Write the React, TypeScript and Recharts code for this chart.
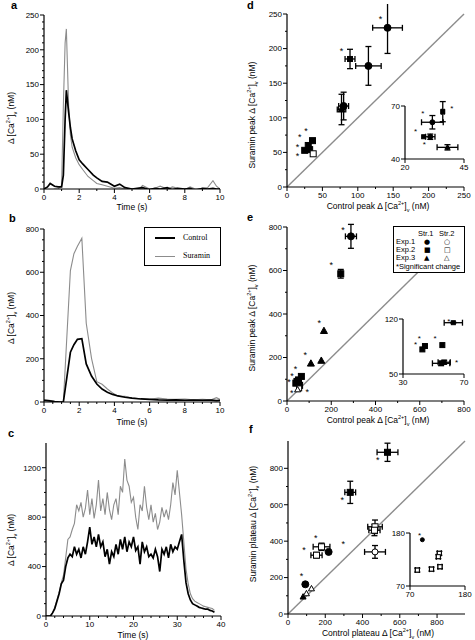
import React from "react";
import {
  LineChart,
  Line,
  XAxis,
  YAxis,
  ScatterChart,
  Scatter,
  ErrorBar,
  ReferenceLine,
} from "recharts";

const SANS = "'Liberation Sans', Arial, sans-serif";
const SERIF = "'Liberation Serif', 'Times New Roman', serif";
const GREY = "#8c8c8c";

// a: short stimulus, 0-10 s
const timeA = [0, 0.2, 0.35, 0.6, 0.8, 1.0, 1.1, 1.2, 1.27, 1.4, 1.5, 1.6, 1.8, 2.0, 2.2, 2.5, 2.8, 3.0, 3.3, 3.6, 4.0, 4.3, 4.6, 5.0, 5.3, 5.6, 6.0, 6.3, 6.6, 7.0, 7.3, 7.6, 8.0, 8.3, 8.6, 9.0, 9.3, 9.6, 9.8, 10.0];
const controlA = [0, 3, 8, 4, 3, 3, 20, 100, 142, 110, 88, 72, 55, 42, 36, 28, 20, 16, 11, 10, 4, 7, 2, 0, 1, 2, -1, 1, 0, 2, -1, 1, 0, 1, -2, 1, 0, 1, 0, 0];
const suraminA = [0, -5, -3, 0, 0, 5, 120, 210, 230, 120, 78, 60, 45, 35, 28, 18, 12, 8, 6, 4, 1, 2, 0, -1, -3, 5, 0, 1, 4, 0, 3, 1, -1, 3, 0, 1, 2, 12, 4, 0];

// b: longer stimulus, 0-10 s
const timeB = [0, 0.3, 0.6, 0.9, 1.1, 1.5, 1.7, 1.9, 2.15, 2.4, 2.7, 3.0, 3.3, 3.6, 3.9, 4.2, 4.6, 5.0, 5.5, 6.0, 6.5, 7.0, 7.5, 8.0, 8.5, 9.0, 9.5, 9.8, 10.0];
const controlB = [8, 5, 2, 0, 0, 230, 265, 290, 293, 176, 120, 83, 60, 45, 35, 28, 22, 18, 14, 12, 10, 9, 10, 8, 9, 8, 9, 6, 8];
const suraminB = [10, 8, 3, 0, 0, 608, 686, 720, 757, 364, 202, 94, 82, 60, 42, 28, 26, 18, 15, 12, 18, 14, 12, 14, 10, 12, 10, 20, 12];

// c: 30 s stimulus, 0.5 s samples
const timeC = [0, 0.5, 1, 1.5, 2, 2.5, 3, 3.5, 4, 4.5, 5, 5.5, 6, 6.5, 7, 7.5, 8, 8.5, 9, 9.5, 10, 10.5, 11, 11.5, 12, 12.5, 13, 13.5, 14, 14.5, 15, 15.5, 16, 16.5, 17, 17.5, 18, 18.5, 19, 19.5, 20, 20.5, 21, 21.5, 22, 22.5, 23, 23.5, 24, 24.5, 25, 25.5, 26, 26.5, 27, 27.5, 28, 28.5, 29, 29.5, 30, 30.5, 31, 31.5, 32, 32.5, 33, 33.5, 34, 34.5, 35, 35.5, 36, 36.5, 37, 37.5, 38, 38.5];
const controlC = [0, 0, 0, 25, 60, 120, 180, 260, 290, 400, 470, 500, 480, 560, 500, 540, 470, 560, 500, 600, 720, 580, 640, 560, 660, 560, 600, 480, 540, 420, 520, 480, 580, 500, 620, 540, 640, 520, 600, 560, 640, 530, 560, 420, 600, 520, 560, 480, 500, 470, 540, 480, 360, 540, 500, 560, 470, 580, 520, 560, 540, 600, 660, 450, 270, 180, 130, 100, 90, 80, 70, 65, 60, 55, 55, 45, 40, 30];
const suraminC = [0, 0, 0, 25, 70, 130, 190, 270, 330, 470, 620, 640, 700, 750, 900, 850, 920, 800, 870, 1020, 820, 950, 790, 900, 1100, 850, 950, 820, 1000, 860, 780, 900, 950, 820, 1050, 1000, 1270, 1100, 1050, 920, 960, 800, 700, 900, 850, 1050, 880, 780, 900, 760, 830, 700, 760, 880, 800, 860, 780, 900, 1080, 980, 1180, 1000, 820, 600, 380, 260, 180, 140, 120, 110, 100, 90, 80, 75, 70, 65, 60, 45];

// scatter points: [x, y, xErr, yErr]
const dCircles = [[142, 230, 21, 37], [115, 175, 18, 28], [80, 117, 7, 20]];
const dTriangles = [[77, 112, 6, 22]];
const dSquaresErr = [[89, 185, 7, 14]];
const dSquares = [[36, 67], [30, 60], [25, 53], [32, 54]];
const dOpenSquares = [[37, 48]];
const dStars = [[132, 245], [77, 199], [27, 84], [18, 75], [15, 61], [15, 47]];
const dInCircles = [[31.6, 60.8, 4.6, 3.8], [30.7, 52.6, 2, 1.5]];
const dInSquaresErr = [[36, 66.8, 0.6, 5.7]];
const dInSquares = [[27.9, 52.6]];
const dInTriangles = [[38, 46.6, 4.4, 1.5]];
const dInStars = [[24.5, 56.8], [28.2, 49.2], [27.5, 66.6], [39.8, 69.5]];

const eCircles = [[289, 757, 25, 55]];
const eSquaresErr = [[243, 585, 8, 20]];
const eTriangles = [[167, 322], [108, 172], [155, 185]];
const eSquares = [[65, 113], [52, 97], [40, 82], [57, 72], [45, 90]];
const eOpenSquares = [[55, 58]];
const eOpenTriangles = [[48, 52]];
const eStars = [[253, 795], [200, 634], [146, 369], [83, 222], [39, 157], [23, 125], [9, 96], [22, 48], [92, 49]];
const eInSquaresErr = [[63, 115.3, 6, 0.5], [55, 63.6, 5.7, 3], [57, 65, 4, 2.5]];
const eInSquares = [[42.7, 81.3], [44.4, 85.6], [55.8, 86.8]];
const eInStars = [[38.3, 89.5], [40.7, 97.9], [51, 97], [60, 119], [65.2, 66.5]];

const fSquaresErr = [[534, 888, 56, 50], [334, 668, 29, 61]];
const fOpenSquaresErr = [[467, 479, 39, 37], [464, 460, 30, 30], [180, 369, 45, 20], [153, 323, 30, 15]];
const fOpenCirclesErr = [[467, 341, 56, 35]];
const fCircles = [[218, 341], [93, 163]];
const fTriangles = [[81, 94]];
const fOpenTriangles = [[99, 112], [126, 139]];
const fStars = [[482, 855], [291, 635], [297, 396], [149, 429], [86, 363], [72, 222]];
const fInCircles = [[94.7, 166]];
const fInOpenSquaresErr = [[128.7, 137.8, 4, 4], [126.7, 130.9, 4, 4], [130, 110, 4, 4], [113, 105, 4, 4], [84.7, 103, 4, 4]];
const fInStars = [[89.3, 178]];

const MARGIN = { top: 10, right: 10, bottom: 0, left: 0 };
const TICK_SIZE = 4;
const TICK_MARGIN = 1;

// plot rectangle in page pixels -> chart box
function frame(x0: number, y0: number, x1: number, y1: number) {
  return { left: x0 - 40, top: y0 - 10, width: x1 - x0 + 50, height: y1 - y0 + 30 };
}

// major ticks plus unlabelled minor ones
function withMinors(majors: number[], step: number) {
  const out: number[] = [];
  const top = majors[majors.length - 1];
  for (let v = majors[0]; v <= top + 1e-9; v += step) out.push(Math.round(v * 1000) / 1000);
  return out;
}

function YTick({ x, y, payload, majors }: any) {
  const major = majors.includes(payload.value);
  const ax = x + TICK_SIZE + TICK_MARGIN;
  return (
    <g>
      <line x1={ax - (major ? TICK_SIZE : 2)} x2={ax} y1={y} y2={y} stroke="#000" strokeWidth={1} />
      {major && (
        <text x={x} y={y} dy="0.355em" textAnchor="end" fontSize={8} fontFamily={SANS} fill="#000">
          {payload.value}
        </text>
      )}
    </g>
  );
}

function XTick({ x, y, payload, majors }: any) {
  const major = majors.includes(payload.value);
  const ay = y - TICK_SIZE - TICK_MARGIN;
  return (
    <g>
      <line x1={x} x2={x} y1={ay} y2={ay + (major ? TICK_SIZE : 2)} stroke="#000" strokeWidth={1} />
      {major && (
        <text x={x} y={y} dy="0.71em" textAnchor="middle" fontSize={8} fontFamily={SANS} fill="#000">
          {payload.value}
        </text>
      )}
    </g>
  );
}

function axisProps(majors: number[], step: number, vertical: boolean) {
  return {
    stroke: "#000",
    strokeWidth: 1.2,
    tickLine: false,
    tickSize: TICK_SIZE,
    tickMargin: TICK_MARGIN,
    interval: 0 as const,
    ticks: step ? withMinors(majors, step) : majors,
    tick: (p: any) => (vertical ? <YTick {...p} majors={majors} /> : <XTick {...p} majors={majors} />),
  };
}

function Ca() {
  return (
    <>
      Δ [Ca<span style={{ fontSize: 5.5, verticalAlign: "super" }}>2+</span>]
      <span style={{ fontSize: 5.5, verticalAlign: "sub" }}>v</span>
    </>
  );
}

function YTitle({ x, y, children }: any) {
  return (
    <div
      style={{
        position: "absolute", left: x, top: y, transform: "translate(-50%,-50%) rotate(-90deg)",
        whiteSpace: "nowrap", fontSize: 8.5, fontFamily: SANS, lineHeight: 1,
      }}
    >
      {children}
    </div>
  );
}

function XTitle({ x, y, children }: any) {
  return (
    <div
      style={{
        position: "absolute", left: x, top: y, transform: "translate(-50%,-50%)",
        whiteSpace: "nowrap", fontSize: 8.5, fontFamily: SANS, lineHeight: 1,
      }}
    >
      {children}
    </div>
  );
}

function Letter({ x, y, children }: any) {
  return (
    <div style={{ position: "absolute", left: x, top: y, fontSize: 11, fontWeight: "bold", fontFamily: SANS, lineHeight: 1 }}>
      {children}
    </div>
  );
}

function Mark({ cx, cy, kind, filled, size }: any) {
  const fill = filled ? "#000" : "#fff";
  if (kind === "circle") return <circle cx={cx} cy={cy} r={size / 2} fill={fill} stroke="#000" strokeWidth={1} />;
  if (kind === "square")
    return <rect x={cx - size / 2} y={cy - size / 2} width={size} height={size} fill={fill} stroke="#000" strokeWidth={1} />;
  const h = size * 0.9;
  return (
    <polygon
      points={`${cx},${cy - h * 0.6} ${cx - size / 2},${cy + h * 0.4} ${cx + size / 2},${cy + h * 0.4}`}
      fill={fill}
      stroke="#000"
      strokeWidth={1}
    />
  );
}

function TracePanel({ plot, data, xMax, xTicks, xStep, yMax, yTicks, yStep }: any) {
  const f = frame(plot[0], plot[1], plot[2], plot[3]);
  return (
    <div style={{ position: "absolute", left: f.left, top: f.top }}>
      <LineChart width={f.width} height={f.height} data={data} margin={MARGIN}>
        <XAxis type="number" dataKey="t" domain={[0, xMax]} height={20} allowDataOverflow {...axisProps(xTicks, xStep, false)} />
        <YAxis type="number" domain={[0, yMax]} width={40} allowDataOverflow {...axisProps(yTicks, yStep, true)} />
        <Line dataKey="suramin" stroke={GREY} strokeWidth={1.1} dot={false} isAnimationActive={false} />
        <Line dataKey="control" stroke="#000" strokeWidth={1.7} dot={false} isAnimationActive={false} />
      </LineChart>
    </div>
  );
}

function ScatterPanel({ plot, xDomain, yDomain, xTicks, yTicks, step = 0, groups, stars, diag, starSize = 9 }: any) {
  const f = frame(plot[0], plot[1], plot[2], plot[3]);
  return (
    <div style={{ position: "absolute", left: f.left, top: f.top }}>
      <ScatterChart width={f.width} height={f.height} margin={MARGIN}>
        <XAxis type="number" dataKey="x" domain={xDomain} height={20} allowDataOverflow {...axisProps(xTicks, step, false)} />
        <YAxis type="number" dataKey="y" domain={yDomain} width={40} allowDataOverflow {...axisProps(yTicks, step, true)} />
        {diag && (
          <ReferenceLine segment={[{ x: 0, y: 0 }, { x: diag, y: diag }]} stroke={GREY} strokeWidth={1.4} />
        )}
        {groups.map((g: any, i: number) => {
          const withErr = g.pts[0].length > 2;
          return (
            <Scatter
              key={i}
              data={g.pts.map((p: number[]) => ({ x: p[0], y: p[1], ex: p[2] || 0, ey: p[3] || 0 }))}
              isAnimationActive={false}
              shape={(p: any) => <Mark cx={p.cx} cy={p.cy} kind={g.kind} filled={g.filled} size={g.size} />}
            >
              {withErr && <ErrorBar dataKey="ex" direction="x" width={3} stroke="#000" strokeWidth={1.3} />}
              {withErr && <ErrorBar dataKey="ey" direction="y" width={3} stroke="#000" strokeWidth={1.3} />}
            </Scatter>
          );
        })}
        <Scatter
          data={stars.map((s: number[]) => ({ x: s[0], y: s[1] }))}
          isAnimationActive={false}
          shape={(p: any) => (
            <text x={p.cx} y={p.cy + starSize * 0.55} textAnchor="middle" fontSize={starSize} fontFamily={SANS}>
              *
            </text>
          )}
        />
      </ScatterChart>
    </div>
  );
}

const legendSym = { position: "absolute" as const, fontSize: 7, lineHeight: 1, fontFamily: "'DejaVu Sans', sans-serif" };

export default function App() {
  const dataA = timeA.map((t, i) => ({ t, control: controlA[i], suramin: suraminA[i] }));
  const dataB = timeB.map((t, i) => ({ t, control: controlB[i], suramin: suraminB[i] }));
  const dataC = timeC.map((t, i) => ({ t, control: controlC[i], suramin: suraminC[i] }));

  return (
    <div style={{ position: "absolute", left: 0, top: 0, width: 475, height: 640, background: "#fff", fontFamily: SANS }}>
      {/* left column: traces */}
      <TracePanel plot={[44, 15, 220, 189]} data={dataA} xMax={10} xTicks={[0, 2, 4, 6, 8, 10]} xStep={1} yMax={250} yTicks={[0, 50, 100, 150, 200, 250]} yStep={10} />
      <TracePanel plot={[44, 229, 220, 402]} data={dataB} xMax={10} xTicks={[0, 2, 4, 6, 8, 10]} xStep={0.5} yMax={800} yTicks={[0, 200, 400, 600, 800]} yStep={50} />
      <TracePanel plot={[46, 443, 221, 616]} data={dataC} xMax={40} xTicks={[0, 10, 20, 30, 40]} xStep={2} yMax={1400} yTicks={[0, 400, 800, 1200]} yStep={100} />

      <Letter x={11} y={0}>a</Letter>
      <Letter x={9} y={213}>b</Letter>
      <Letter x={8} y={428}>c</Letter>
      <YTitle x={12} y={118}><Ca /> (nM)</YTitle>
      <YTitle x={12} y={318}><Ca /> (nM)</YTitle>
      <YTitle x={12} y={540}><Ca /> (nM)</YTitle>
      <XTitle x={132} y={207}>Time (s)</XTitle>
      <XTitle x={132} y={422}>Time (s)</XTitle>
      <XTitle x={133} y={635}>Time (s)</XTitle>

      <div
        style={{
          position: "absolute", left: 144, top: 227, width: 75, height: 37, border: "1.5px solid #000",
          background: "#fff", fontFamily: SERIF, fontSize: 8,
        }}
      >
        <div style={{ position: "absolute", left: 10, top: 9, width: 20, height: 2, background: "#000" }} />
        <div style={{ position: "absolute", left: 38, top: 5 }}>Control</div>
        <div style={{ position: "absolute", left: 10, top: 28, width: 20, height: 1.2, background: GREY }} />
        <div style={{ position: "absolute", left: 38, top: 23 }}>Suramin</div>
      </div>

      {/* right column: peak / plateau comparisons */}
      <ScatterPanel
        plot={[287, 14, 464, 187]}
        xDomain={[0, 250]} yDomain={[0, 250]}
        xTicks={[0, 50, 100, 150, 200, 250]} yTicks={[0, 50, 100, 150, 200, 250]}
        step={25}
        diag={250}
        groups={[
          { pts: dCircles, kind: "circle", filled: true, size: 7 },
          { pts: dTriangles, kind: "triangle", filled: true, size: 7 },
          { pts: dSquaresErr, kind: "square", filled: true, size: 5 },
          { pts: dSquares, kind: "square", filled: true, size: 6 },
          { pts: dOpenSquares, kind: "square", filled: false, size: 6 },
        ]}
        stars={dStars}
      />
      <ScatterPanel
        plot={[405, 106, 464, 159]}
        xDomain={[20, 45]} yDomain={[40, 70]}
        xTicks={[20, 45]} yTicks={[40, 70]}
        groups={[
          { pts: dInCircles, kind: "circle", filled: true, size: 5 },
          { pts: dInSquaresErr, kind: "square", filled: true, size: 4 },
          { pts: dInSquares, kind: "square", filled: true, size: 4 },
          { pts: dInTriangles, kind: "triangle", filled: true, size: 5 },
        ]}
        stars={dInStars}
        starSize={8}
      />

      <ScatterPanel
        plot={[287, 227, 464, 401]}
        xDomain={[0, 800]} yDomain={[0, 800]}
        xTicks={[0, 200, 400, 600, 800]} yTicks={[0, 200, 400, 600, 800]}
        step={100}
        diag={800}
        groups={[
          { pts: eCircles, kind: "circle", filled: true, size: 7 },
          { pts: eSquaresErr, kind: "square", filled: true, size: 6 },
          { pts: eTriangles, kind: "triangle", filled: true, size: 7 },
          { pts: eSquares, kind: "square", filled: true, size: 6 },
          { pts: eOpenSquares, kind: "square", filled: false, size: 5 },
          { pts: eOpenTriangles, kind: "triangle", filled: false, size: 6 },
        ]}
        stars={eStars}
      />
      <ScatterPanel
        plot={[403, 319, 464, 374]}
        xDomain={[30, 70]} yDomain={[50, 120]}
        xTicks={[30, 70]} yTicks={[50, 120]}
        groups={[
          { pts: eInSquaresErr, kind: "square", filled: true, size: 4 },
          { pts: eInSquares, kind: "square", filled: true, size: 5 },
        ]}
        stars={eInStars}
        starSize={8}
      />
      <div
        style={{
          position: "absolute", left: 393, top: 226, width: 70, height: 45, border: "1.2px solid #000",
          background: "#fff", fontSize: 7.5, fontFamily: SANS, lineHeight: 1,
        }}
      >
        <div style={{ position: "absolute", left: 24, top: 3 }}>Str.1</div>
        <div style={{ position: "absolute", left: 45, top: 3 }}>Str.2</div>
        <div style={{ position: "absolute", left: 2, top: 11 }}>Exp.1</div>
        <div style={{ ...legendSym, left: 30, top: 11.5 }}>●</div>
        <div style={{ ...legendSym, left: 50, top: 11.5 }}>○</div>
        <div style={{ position: "absolute", left: 2, top: 19 }}>Exp.2</div>
        <div style={{ ...legendSym, left: 30, top: 19.5 }}>■</div>
        <div style={{ ...legendSym, left: 50, top: 19.5 }}>□</div>
        <div style={{ position: "absolute", left: 2, top: 27 }}>Exp.3</div>
        <div style={{ ...legendSym, left: 30, top: 27.5 }}>▲</div>
        <div style={{ ...legendSym, left: 50, top: 27.5 }}>△</div>
        <div style={{ position: "absolute", left: 2, top: 35.5 }}>*Significant change</div>
      </div>

      <ScatterPanel
        plot={[288, 441, 465, 614]}
        xDomain={[0, 950]} yDomain={[0, 950]}
        xTicks={[0, 200, 400, 600, 800]} yTicks={[0, 200, 400, 600, 800]}
        step={100}
        diag={950}
        groups={[
          { pts: fSquaresErr, kind: "square", filled: true, size: 6 },
          { pts: fOpenSquaresErr, kind: "square", filled: false, size: 6 },
          { pts: fOpenCirclesErr, kind: "circle", filled: false, size: 6 },
          { pts: fCircles, kind: "circle", filled: true, size: 7 },
          { pts: fTriangles, kind: "triangle", filled: true, size: 6 },
          { pts: fOpenTriangles, kind: "triangle", filled: false, size: 6 },
        ]}
        stars={fStars}
      />
      <ScatterPanel
        plot={[410, 533, 465, 586]}
        xDomain={[70, 180]} yDomain={[70, 180]}
        xTicks={[70, 180]} yTicks={[70, 180]}
        groups={[
          { pts: fInCircles, kind: "circle", filled: true, size: 4 },
          { pts: fInOpenSquaresErr, kind: "square", filled: false, size: 4 },
        ]}
        stars={fInStars}
        starSize={8}
      />

      <Letter x={247} y={0}>d</Letter>
      <Letter x={247} y={212}>e</Letter>
      <Letter x={249} y={424}>f</Letter>
      <YTitle x={253} y={115}>Suramin peak <Ca /> (nM)</YTitle>
      <YTitle x={253} y={318}>Suramin peak <Ca /> (nM)</YTitle>
      <YTitle x={254} y={524}>Suramin plateau <Ca /> (nM)</YTitle>
      <XTitle x={378} y={207}>Control peak <Ca /> (nM)</XTitle>
      <XTitle x={378} y={421}>Control peak <Ca /> (nM)</XTitle>
      <XTitle x={378} y={634}>Control plateau <Ca /> (nM)</XTitle>
    </div>
  );
}
